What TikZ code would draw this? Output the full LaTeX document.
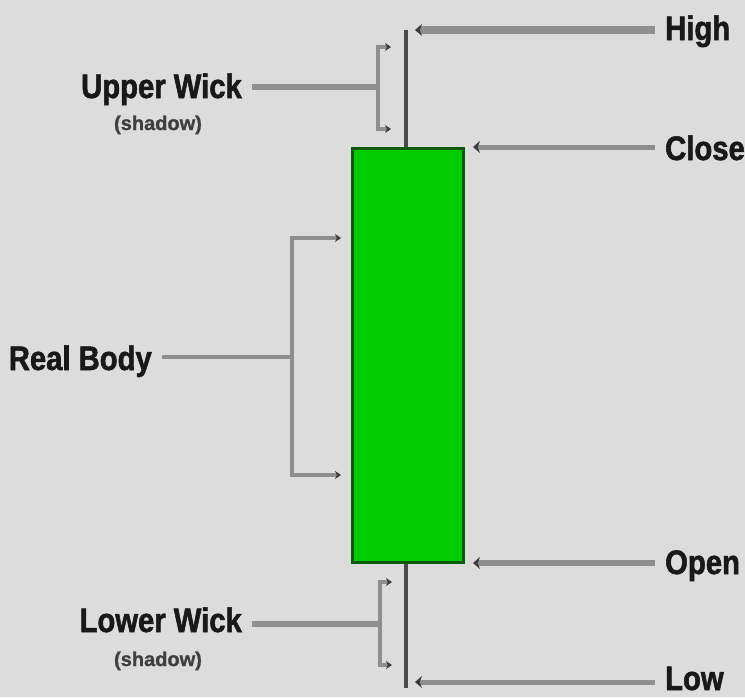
\documentclass[tikz,border=0pt]{standalone}
\usepackage{fontspec}
\newfontfamily\lblfont{Liberation Sans}[FakeStretch=0.86, FakeBold=1.6]
\newfontfamily\subfont{Liberation Sans}[FakeBold=1.2]
\usetikzlibrary{arrows.meta}
\definecolor{bgc}{HTML}{DCDCDC}
\definecolor{leadc}{HTML}{8E8E8E}
\definecolor{tipc}{HTML}{3C3C3C}
\definecolor{wickc}{HTML}{4A4A4A}
\definecolor{bodyfill}{HTML}{00CC00}
\definecolor{bodyline}{HTML}{0B5A0B}
\tikzset{
  lbl/.style={font=\lblfont\bfseries\fontsize{34}{36}\selectfont, text=black!90, inner xsep=10pt, inner ysep=0pt},
  sublbl/.style={font=\subfont\bfseries\fontsize{20}{22}\selectfont, text=black!75, inner sep=0pt},
  ptr/.style={draw=leadc, -{Stealth[length=7pt,width=12pt,color=tipc]}},
  brk/.style={draw=leadc, line width=4pt, line join=miter, -{Stealth[length=6pt,width=8pt,color=tipc]}},
  joinline/.style={draw=leadc},
  wick/.style={draw=wickc, line width=4pt},
  candle/.style={draw=bodyline, fill=bodyfill, line width=3pt, minimum width=111pt, minimum height=414pt, inner sep=0pt}
}
\begin{document}
\begin{tikzpicture}[x=1pt,y=-1pt]
\fill[bgc] (0,0) rectangle (745,697);
\useasboundingbox (0,0) rectangle (745,697);

% wick and body
\coordinate (hi) at (406,30);
\coordinate (lo) at (406,688);
\draw[wick] (hi) -- (406,149);
\draw[wick] (406,561) -- (lo);
\node[candle] (body) at (407.5,355.5) {};

% right labels
\node[lbl, anchor=base west] (high) at (655,40) {High};
\node[lbl, anchor=base west] (close) at (655,160) {Close};
\node[lbl, anchor=base west] (open) at (655,574) {Open};
\node[lbl, anchor=base west] (low) at (655,690) {Low};
\coordinate (hiA) at (415,30);
\coordinate (clA) at (473,147);
\coordinate (opA) at (473,563);
\coordinate (loA) at (415,682);
\draw[ptr, line width=8pt] (high.west |- hiA) -- (hiA);
\draw[ptr, line width=5pt] (close.west |- clA) -- (clA);
\draw[ptr, line width=6pt] (open.west |- opA) -- (opA);
\draw[ptr, line width=5pt] (low.west |- loA) -- (loA);

% upper wick
\node[lbl, anchor=base east] (uw) at (252,98) {Upper Wick};
\node[sublbl, anchor=base] (uws) at (158,130) {(shadow)};
\coordinate (uJ) at (378,87);
\coordinate (uT) at (378,47);
\coordinate (uTa) at (391,47);
\coordinate (uB) at (378,129);
\coordinate (uBa) at (391,129);
\draw[joinline, line width=6pt] (uw.east |- uJ) -- (uJ);
\draw[brk] (uJ) -- (uT) -- (uTa);
\draw[brk] (uJ) -- (uB) -- (uBa);

% real body
\node[lbl, anchor=base east] (rb) at (162,370) {Real Body};
\coordinate (rJ) at (292,357);
\coordinate (rT) at (292,238);
\coordinate (rTa) at (341,238);
\coordinate (rB) at (292,475);
\coordinate (rBa) at (341,475);
\draw[joinline, line width=3.5pt] (rb.east |- rJ) -- (rJ);
\draw[brk] (rJ) -- (rT) -- (rTa);
\draw[brk] (rJ) -- (rB) -- (rBa);

% lower wick
\node[lbl, anchor=base east] (lw) at (252,632) {Lower Wick};
\node[sublbl, anchor=base] (lws) at (158,666) {(shadow)};
\coordinate (lJ) at (380,624);
\coordinate (lT) at (380,582);
\coordinate (lTa) at (392,582);
\coordinate (lB) at (380,665);
\coordinate (lBa) at (392,665);
\draw[joinline, line width=6pt] (lw.east |- lJ) -- (lJ);
\draw[brk] (lJ) -- (lT) -- (lTa);
\draw[brk] (lJ) -- (lB) -- (lBa);
\end{tikzpicture}
\end{document}
